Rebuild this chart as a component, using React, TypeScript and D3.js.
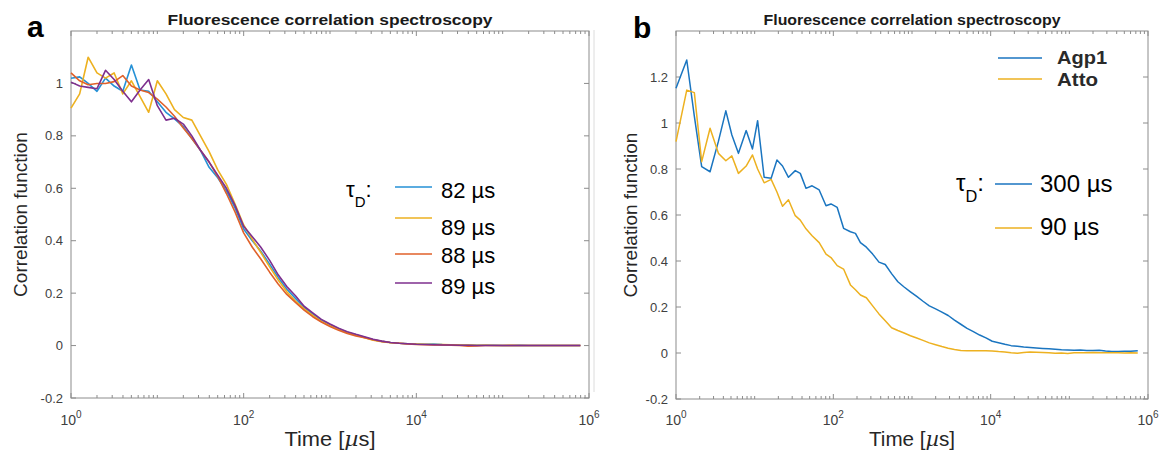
import React from 'react';
import * as d3 from 'd3';

// ---------- data ----------
// panel a: lag times (µs)
const timesA = [1, 1.26, 1.58, 2, 2.51, 3.16, 3.98, 5.01, 6.31, 7.94, 10, 12.6, 15.8, 20, 25.1, 31.6, 39.8, 50.1, 63.1, 79.4, 100, 126, 158, 200, 251, 316, 398, 501, 631, 794, 1000, 1259, 1585, 1995, 2512, 3162, 3981, 5012, 6310, 7943, 10000, 12590, 15850, 19950, 25120, 31620, 39810, 50120, 63100, 79430, 100000, 125900, 158500, 199500, 251200, 316200, 398100, 501200, 631000, 794300];

const fcs82 = [1.02, 1.025, 1.0, 0.97, 1.02, 0.99, 0.97, 1.07, 0.975, 0.97, 0.93, 0.89, 0.865,
  0.835, 0.79, 0.745, 0.68, 0.64, 0.59, 0.525, 0.445, 0.40, 0.36, 0.31, 0.26, 0.215, 0.18, 0.145, 0.12,
  0.098, 0.08, 0.064, 0.051, 0.041, 0.032, 0.022, 0.016, 0.012, 0.009, 0.007, 0.006, 0.005, 0.006, 0.004, 0.003, 0.002, 0.002, 0.001, 0.001, 0.001, 0, 0, 0.001, 0, 0, 0, 0, 0, 0, 0];
const fcs89a = [0.906, 0.96, 1.10, 1.04, 1.02, 1.04, 0.96, 1.01, 0.95, 0.89, 1.01, 0.96, 0.90,
  0.87, 0.86, 0.80, 0.74, 0.67, 0.615, 0.54, 0.46, 0.405, 0.355, 0.30, 0.25, 0.205, 0.17, 0.14, 0.115,
  0.092, 0.076, 0.062, 0.05, 0.04, 0.03, 0.02, 0.015, 0.011, 0.009, 0.007, 0.006, 0.005, 0.004, 0.004, 0.003, 0.002, 0.002, 0.001, 0.001, 0, 0, 0.001, 0, 0, 0, 0, 0, 0, 0, 0];
const fcs88 = [1.04, 1.01, 0.995, 1.0, 1.0, 1.007, 1.03, 0.99, 0.975, 0.965, 0.94, 0.91, 0.875,
  0.83, 0.79, 0.745, 0.70, 0.645, 0.58, 0.51, 0.43, 0.375, 0.33, 0.28, 0.235, 0.195, 0.165, 0.135, 0.11,
  0.09, 0.073, 0.058, 0.046, 0.037, 0.03, 0.022, 0.016, 0.012, 0.009, 0.006, 0.004, 0.003, 0.002, 0.002, 0.001, 0, -0.002, -0.001, 0, 0, 0, 0, 0, 0, 0, 0, 0, 0, 0, 0];
const fcs89b = [1.005, 0.99, 0.985, 0.98, 1.05, 1.015, 0.97, 0.93, 0.975, 1.015, 0.915, 0.86, 0.867,
  0.845, 0.80, 0.745, 0.70, 0.65, 0.60, 0.535, 0.455, 0.415, 0.375, 0.325, 0.27, 0.225, 0.19, 0.15, 0.125,
  0.10, 0.082, 0.066, 0.053, 0.043, 0.034, 0.024, 0.017, 0.012, 0.009, 0.007, 0.005, 0.004, 0.003, 0.002, 0.002, 0.001, 0.001, 0, 0, 0, 0, 0, 0, 0, 0, 0, 0, 0, 0, 0];

const legendA = ['82 µs', '89 µs', '88 µs', '89 µs'];

// panel b: lag times (µs)
const timesB = [1, 1.37, 1.71, 2.12, 2.71, 3.46, 4.30, 5.13, 6.22, 7.80, 9.38, 10.9, 13.2, 16.2, 19.2, 22.6, 26.9, 32.8, 38.0, 44.9, 53.7, 66.1, 80.7, 93.3, 112, 135, 165, 191, 221, 263, 316, 380, 457, 550, 661, 794, 955, 1148, 1380, 1660, 1995, 2399, 2884, 3467, 4169, 5012, 6026, 7244, 8710, 10470, 12590, 15140, 18200, 21880, 26300, 31620, 38020, 45710, 54950, 66070, 79430, 95500, 114800, 138000, 166000, 199500, 239900, 288400, 346700, 416900, 501200, 602600, 741300];

const agp1 = [1.151, 1.274, 1.03, 0.81, 0.788, 0.92, 1.053, 0.948, 0.868, 0.967,
  0.887, 1.01, 0.764, 0.76, 0.839, 0.813, 0.764, 0.793, 0.781, 0.716,
  0.727, 0.709, 0.64, 0.648, 0.633, 0.542, 0.527, 0.52, 0.48,
  0.46, 0.43, 0.395, 0.385, 0.345, 0.31, 0.287, 0.266, 0.246, 0.225,
  0.205, 0.192, 0.178, 0.163, 0.143, 0.125, 0.107, 0.093, 0.078, 0.066,
  0.051, 0.045, 0.038, 0.032, 0.029, 0.026, 0.024, 0.022, 0.02, 0.018,
  0.016, 0.014, 0.013, 0.012, 0.013, 0.011, 0.011, 0.012, 0.009, 0.007,
  0.007, 0.008, 0.008, 0.01];
const atto = [0.919, 1.143, 1.132, 0.832, 0.977, 0.868, 0.836, 0.857, 0.781, 0.813, 0.861, 0.80, 0.74, 0.755,
  0.70, 0.638, 0.666, 0.597, 0.578, 0.54, 0.51,
  0.48, 0.43, 0.415, 0.38, 0.365, 0.296, 0.275, 0.252,
  0.24, 0.205, 0.17, 0.14, 0.11, 0.098, 0.087, 0.075, 0.065, 0.055, 0.044, 0.036, 0.028, 0.021, 0.015, 0.011,
  0.01, 0.01, 0.01, 0.01, 0.009, 0.006, 0.004, 0.001, -0.001, 0.002, 0.004, 0.003, 0.002, 0.001, -0.001, 0, -0.002, 0.001, 0.001, 0.001, 0.002, 0.001, 0.001, 0.001, 0.001, 0, 0.001, 0];

const legendB = ['300 µs', '90 µs'];
const namesB = ['Agp1', 'Atto'];

const yTicksA = [-0.2, 0, 0.2, 0.4, 0.6, 0.8, 1];
const yTicksB = [-0.2, 0, 0.2, 0.4, 0.6, 0.8, 1, 1.2];
const xMajor = [1, 1e2, 1e4, 1e6];
const xExp = ['0', '2', '4', '6'];

// ---------- styling ----------
const FONT = "'Liberation Sans', Arial, Helvetica, sans-serif";
const AXIS = '#8c8c8c';
const TICKTXT = '#404040';
const LABEL = '#262626';
const BLUE_A = '#2591d6';
const BLUE_B = '#1a75c0';
const YELLOW = '#EDB120';
const ORANGE = '#E0612A';
const PURPLE = '#7E2F8E';

type Series = { values: number[]; color: string };

interface PanelProps {
  x0: number; x1: number; yTop: number; yBot: number;
  yMin: number; yMax: number; yTicks: number[];
  times: number[]; series: Series[];
  title: string; titleLen: number; xLabelLen: number; yLabelX: number;
  lw: number;
}

function fmtY(v: number) {
  if (Math.abs(v) < 1e-9) return '0';
  return String(+v.toFixed(1));
}

function Panel(p: PanelProps) {
  const x = d3.scaleLog().domain([1, 1e6]).range([p.x0, p.x1]);
  const y = d3.scaleLinear().domain([p.yMin, p.yMax]).range([p.yBot, p.yTop]);
  const line = d3.line<[number, number]>().x(d => x(d[0])).y(d => y(d[1]));
  const minors: number[] = [];
  for (let e = 0; e < 6; e++) {
    for (let m = 2; m <= 10; m++) {
      const v = m * Math.pow(10, e);
      if (!xMajor.some(t => Math.abs(t - v) < 1e-6)) minors.push(v);
    }
  }
  const cx = (p.x0 + p.x1) / 2;
  return (
    <g>
      <rect x={p.x0} y={p.yTop} width={p.x1 - p.x0} height={p.yBot - p.yTop} fill="white" stroke={AXIS} strokeWidth={1} />
      {xMajor.map((t, i) => (
        <g key={'xm' + i}>
          <line x1={x(t)} x2={x(t)} y1={p.yBot} y2={p.yBot - 5} stroke={AXIS} />
          <line x1={x(t)} x2={x(t)} y1={p.yTop} y2={p.yTop + 5} stroke={AXIS} />
          <text x={x(t)} y={425} textAnchor="middle" fontFamily={FONT} fontSize={14} fill={TICKTXT}>
            10<tspan fontSize={10} dy={-7}>{xExp[i]}</tspan>
          </text>
        </g>
      ))}
      {minors.map((t, i) => (
        <g key={'xn' + i}>
          <line x1={x(t)} x2={x(t)} y1={p.yBot} y2={p.yBot - 3} stroke={AXIS} />
          <line x1={x(t)} x2={x(t)} y1={p.yTop} y2={p.yTop + 3} stroke={AXIS} />
        </g>
      ))}
      {p.yTicks.map((t, i) => (
        <g key={'y' + i}>
          <line x1={p.x0} x2={p.x0 + 5} y1={y(t)} y2={y(t)} stroke={AXIS} />
          <line x1={p.x1} x2={p.x1 - 5} y1={y(t)} y2={y(t)} stroke={AXIS} />
          <text x={p.x0 - 8} y={y(t) + 4.5} textAnchor="end" fontFamily={FONT} fontSize={13} fill={TICKTXT}>{fmtY(t)}</text>
        </g>
      ))}
      {p.series.map((s, i) => (
        <path key={'s' + i}
          d={line(p.times.map((t, k) => [t, s.values[k]] as [number, number])) || ''}
          fill="none" stroke={s.color} strokeWidth={p.lw} strokeLinejoin="round" />
      ))}
      <text x={cx} y={25} textAnchor="middle" fontFamily={FONT} fontWeight="bold" fontSize={14} fill="#1a1a1a"
        textLength={p.titleLen} lengthAdjust="spacingAndGlyphs">{p.title}</text>
      <text x={cx} y={446} textAnchor="middle" fontFamily={FONT} fontSize={20} fill={LABEL}
        textLength={p.xLabelLen} lengthAdjust="spacingAndGlyphs">
        Time [<tspan fontStyle="italic" fontFamily="'DejaVu Serif', serif">µ</tspan>s]
      </text>
      <text transform={`translate(${p.yLabelX},${(p.yTop + p.yBot) / 2}) rotate(-90)`} textAnchor="middle"
        fontFamily={FONT} fontSize={19} fill={LABEL}>Correlation function</text>
    </g>
  );
}

function TauD({ x, y, size }: { x: number; y: number; size: number }) {
  return (
    <text x={x} y={y} fontFamily={FONT} fontSize={size} fill="#000">
      τ<tspan fontSize={size * 0.68} dy={size * 0.45}>D</tspan><tspan dy={-size * 0.45}>:</tspan>
    </text>
  );
}

export default function App() {
  const seriesA: Series[] = [
    { values: fcs82, color: BLUE_A },
    { values: fcs89a, color: YELLOW },
    { values: fcs88, color: ORANGE },
    { values: fcs89b, color: PURPLE },
  ];
  const seriesB: Series[] = [
    { values: agp1, color: BLUE_B },
    { values: atto, color: YELLOW },
  ];
  const legLinesA = [187, 218, 254, 283];
  const legTextA = [198, 235, 263, 294];
  const legLinesB = [184, 228];
  const legTextB = [192, 235];
  const nameLinesB = [58, 79];
  const nameTextB = [64, 86];
  const nameLen = [50, 41];
  return (
    <svg width={1161} height={452} style={{ position: 'absolute', left: 0, top: 0, background: 'white' }}>
      <rect x={0} y={0} width={1161} height={452} fill="white" />
      <line x1={594} x2={594} y1={30} y2={392} stroke="#dcdcdc" strokeWidth={1} />
      <Panel x0={71} x1={589} yTop={31} yBot={398} yMin={-0.2} yMax={1.2} yTicks={yTicksA}
        times={timesA} series={seriesA} title="Fluorescence correlation spectroscopy"
        titleLen={325} xLabelLen={91} yLabelX={27} lw={1.6} />
      <Panel x0={676} x1={1148} yTop={31} yBot={399} yMin={-0.2} yMax={1.4} yTicks={yTicksB}
        times={timesB} series={seriesB} title="Fluorescence correlation spectroscopy"
        titleLen={297} xLabelLen={86} yLabelX={637} lw={1.5} />
      <text x={27} y={37} fontFamily={FONT} fontWeight="bold" fontSize={30} fill="#000">a</text>
      <text x={633} y={38} fontFamily={FONT} fontWeight="bold" fontSize={30} fill="#000">b</text>
      <TauD x={346} y={197} size={22} />
      {legendA.map((l, i) => (
        <g key={'la' + i}>
          <line x1={395} x2={432} y1={legLinesA[i]} y2={legLinesA[i]} stroke={seriesA[i].color} strokeWidth={1.5} />
          <text x={441} y={legTextA[i]} fontFamily={FONT} fontSize={22} fill="#000">{l}</text>
        </g>
      ))}
      {namesB.map((n, i) => (
        <g key={'nb' + i}>
          <line x1={998} x2={1042} y1={nameLinesB[i]} y2={nameLinesB[i]} stroke={seriesB[i].color} strokeWidth={1.5} />
          <text x={1057} y={nameTextB[i]} fontFamily={FONT} fontWeight="bold" fontSize={18} fill="#2a2a2a"
            textLength={nameLen[i]} lengthAdjust="spacingAndGlyphs">{n}</text>
        </g>
      ))}
      <TauD x={956} y={191} size={24} />
      {legendB.map((l, i) => (
        <g key={'lb' + i}>
          <line x1={995} x2={1032} y1={legLinesB[i]} y2={legLinesB[i]} stroke={seriesB[i].color} strokeWidth={1.5} />
          <text x={1040} y={legTextB[i]} fontFamily={FONT} fontSize={24} fill="#000">{l}</text>
        </g>
      ))}
    </svg>
  );
}
